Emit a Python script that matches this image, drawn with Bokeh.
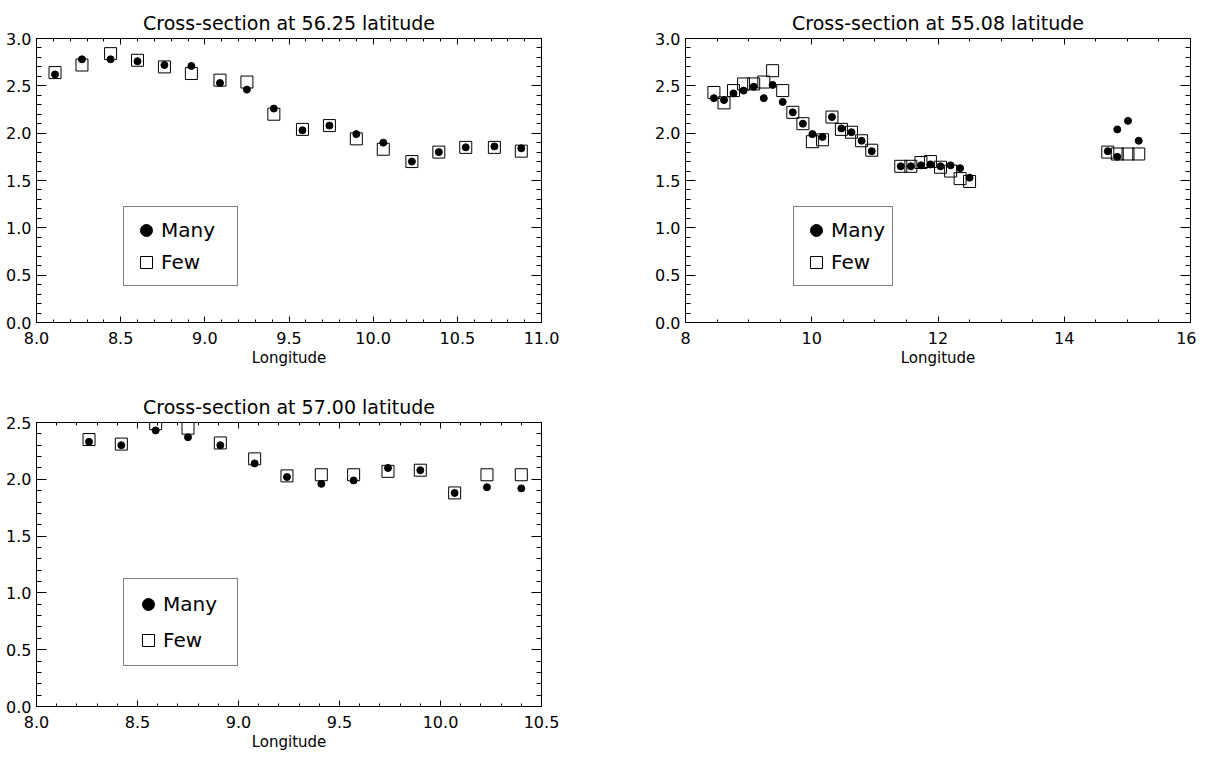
from bokeh.plotting import figure
from bokeh.models import Range1d, FixedTicker, LinearAxis, Legend, LegendItem, PrintfTickFormatter
from bokeh.layouts import column, row
from bokeh.embed import file_html
from bokeh.resources import INLINE

# ---------------- data ----------------
# Panel 1: 56.25 latitude
lon1 = [8.11, 8.27, 8.44, 8.60, 8.76, 8.92, 9.09, 9.25, 9.41, 9.58, 9.74, 9.90,
        10.06, 10.23, 10.39, 10.55, 10.72, 10.88]
many1 = [2.62, 2.78, 2.78, 2.76, 2.72, 2.71, 2.53, 2.46, 2.26, 2.03, 2.08, 1.99,
         1.90, 1.70, 1.80, 1.85, 1.86, 1.84]
few1 = [2.64, 2.72, 2.84, 2.77, 2.70, 2.63, 2.56, 2.54, 2.20, 2.04, 2.08, 1.94,
        1.83, 1.70, 1.80, 1.85, 1.85, 1.81]

# Panel 2: 55.08 latitude
lon2_few = [8.45, 8.61, 8.76, 8.92, 9.08, 9.24, 9.38, 9.54, 9.70, 9.86, 10.01, 10.17,
            10.32, 10.47, 10.63, 10.79, 10.95, 11.41, 11.57, 11.73, 11.88, 12.04,
            12.20, 12.35, 12.50, 14.69, 14.84, 15.01, 15.18]
few2 = [2.43, 2.32, 2.45, 2.52, 2.52, 2.54, 2.66, 2.45, 2.22, 2.10, 1.91, 1.93,
        2.17, 2.04, 2.01, 1.92, 1.82, 1.65, 1.65, 1.69, 1.70, 1.64,
        1.60, 1.52, 1.49, 1.80, 1.78, 1.78, 1.78]
lon2_many = [8.45, 8.61, 8.76, 8.92, 9.08, 9.24, 9.38, 9.54, 9.70, 9.86, 10.01, 10.17,
             10.32, 10.47, 10.63, 10.79, 10.95, 11.41, 11.57, 11.73, 11.88, 12.04,
             12.20, 12.35, 12.50, 14.69, 14.84, 14.84, 15.01, 15.18]
many2 = [2.37, 2.35, 2.42, 2.45, 2.49, 2.37, 2.51, 2.33, 2.22, 2.10, 1.99, 1.96,
         2.17, 2.05, 2.01, 1.92, 1.81, 1.65, 1.65, 1.66, 1.67, 1.65,
         1.66, 1.63, 1.53, 1.81, 1.75, 2.04, 2.13, 1.92]

# Panel 3: 57.00 latitude
lon3 = [8.26, 8.42, 8.59, 8.75, 8.91, 9.08, 9.24, 9.41, 9.57, 9.74, 9.90, 10.07, 10.23, 10.40]
few3 = [2.35, 2.31, 2.49, 2.45, 2.32, 2.18, 2.03, 2.04, 2.04, 2.07, 2.08, 1.88, 2.04, 2.04]
many3 = [2.33, 2.30, 2.43, 2.37, 2.30, 2.14, 2.02, 1.96, 1.99, 2.10, 2.08, 1.88, 1.93, 1.92]

titles = ["Cross-section at 56.25 latitude", "Cross-section at 55.08 latitude",
          "Cross-section at 57.00 latitude"]
x_label = "Longitude"
series_names = ["Many", "Few"]

FONT = "DejaVu Sans"


def frange(a, b, step):
    n = int(round((b - a) / step))
    return [round(a + i * step, 6) for i in range(n + 1)]


def make_panel(title, lon_m, val_m, lon_f, val_f, xr, yr, xmaj, xmin, ymaj, ymin, xfmt,
               bl, br, bt, bb, leg_loc, leg_pad, leg_space, leg_lw):
    p = figure(frame_width=505, frame_height=284,
               x_range=Range1d(*xr), y_range=Range1d(*yr),
               output_backend="svg", toolbar_location=None,
               min_border_left=bl, min_border_right=br,
               min_border_top=bt, min_border_bottom=bb,
               background_fill_color="white", border_fill_color="white")
    p.grid.visible = False
    p.outline_line_color = "black"
    p.outline_line_width = 1

    p.title.text = title
    p.title.align = "center"
    p.title.text_font = FONT
    p.title.text_font_style = "normal"
    p.title.text_font_size = "19px"
    p.title.text_color = "black"

    xt = FixedTicker(ticks=frange(xr[0], xr[1], xmaj), minor_ticks=frange(xr[0], xr[1], xmin))
    yt = FixedTicker(ticks=frange(yr[0], yr[1], ymaj), minor_ticks=frange(yr[0], yr[1], ymin))

    bx = p.below[0]
    ly = p.left[0]
    ax_top = LinearAxis(ticker=xt)
    ax_right = LinearAxis(ticker=yt)
    p.add_layout(ax_top, "above")
    p.add_layout(ax_right, "right")
    bx.ticker = xt
    ly.ticker = yt

    for ax in (bx, ax_top):
        ax.major_tick_in = 6
        ax.minor_tick_in = 3
    for ax in (ly, ax_right):
        ax.major_tick_in = 10
        ax.minor_tick_in = 5
    for ax in (bx, ly, ax_top, ax_right):
        ax.major_tick_out = 0
        ax.minor_tick_out = 0
        ax.axis_line_color = "black"
        ax.major_tick_line_color = "black"
        ax.minor_tick_line_color = "black"
        ax.major_label_text_font = FONT
        ax.major_label_text_font_size = "16px"
        ax.major_label_text_color = "black"
        ax.axis_label_text_font = FONT
        ax.axis_label_text_font_size = "15px"
        ax.axis_label_text_font_style = "normal"
        ax.axis_label_text_color = "black"
        ax.major_label_standoff = 5

    bx.formatter = PrintfTickFormatter(format=xfmt)
    ly.formatter = PrintfTickFormatter(format="%.1f")
    bx.major_label_standoff = 9
    bx.axis_label = x_label
    bx.axis_label_standoff = 2
    # mirrored axes: ticks only, no labels
    for ax in (ax_top, ax_right):
        ax.major_label_text_font_size = "1px"
        ax.major_label_text_color = None
        ax.major_label_standoff = 0

    r_many = p.scatter(lon_m, val_m, marker="circle", size=7,
                       fill_color="black", line_color="black")
    r_few = p.scatter(lon_f, val_f, marker="square", size=12,
                      fill_color=None, line_color="black", line_width=1)

    leg = Legend(items=[LegendItem(label=series_names[0], renderers=[r_many]),
                        LegendItem(label=series_names[1], renderers=[r_few])],
                 location=leg_loc, margin=0, padding=leg_pad, spacing=leg_space,
                 glyph_width=30, glyph_height=32, label_standoff=0, label_width=leg_lw,
                 label_text_font=FONT, label_text_font_size="20px",
                 label_text_color="black",
                 border_line_color="black", border_line_width=1,
                 background_fill_color="white", background_fill_alpha=1.0)
    p.add_layout(leg)
    return p


p1 = make_panel(titles[0], lon1, many1, lon1, few1, (8.0, 11.0), (0.0, 3.0),
                0.5, 0.1, 0.5, 0.1, "%.1f", 36, 50, 38, 64, (87, 36), 7, 0, 69)
p2 = make_panel(titles[1], lon2_many, many2, lon2_few, few2, (8.0, 16.0), (0.0, 3.0),
                2.0, 0.5, 0.5, 0.1, "%d", 94, 6, 38, 64, (108, 36), 7, 0, 54)
p3 = make_panel(titles[2], lon3, many3, lon3, few3, (8.0, 10.5), (0.0, 2.5),
                0.5, 0.1, 0.5, 0.1, "%.1f", 36, 50, 36, 48, (87, 40), 9, 4, 65)

layout = column(row(p1, p2), p3)

open("out.html", "w").write(file_html(layout, INLINE))
